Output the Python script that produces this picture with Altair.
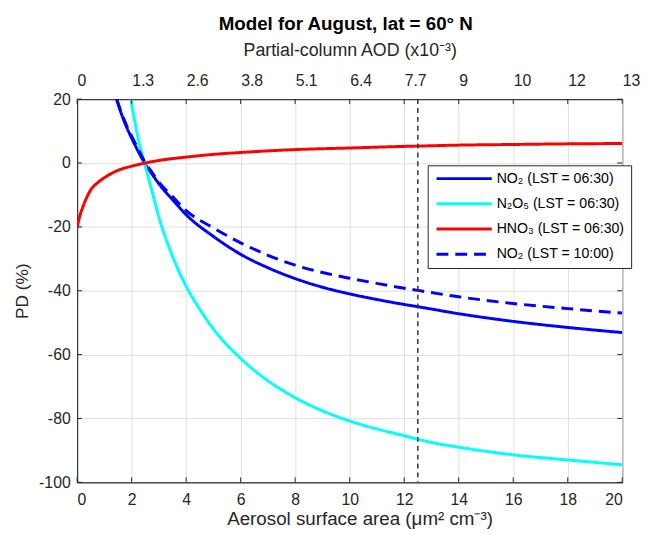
import altair as alt
import pandas as pd

# ---------------- data ----------------
series_names = ["NO₂ (LST = 06:30)", "N₂O₅ (LST = 06:30)", "HNO₃ (LST = 06:30)", "NO₂ (LST = 10:00)"]
series_colors = ["#0000ff", "#00ffff", "#ff0000", "#0000ff"]
series_dash = [[1, 0], [1, 0], [1, 0], [12, 7]]

no2_0630_x = [1.45, 1.6, 1.8, 2.0, 2.25, 2.47, 2.75, 3.0, 3.5, 4, 5, 6, 7, 8, 9, 10, 11, 12, 12.5, 14, 16, 18, 20]
no2_0630_y = [20, 16, 11.5, 7.8, 3.5, 0, -3.5, -6.5, -11.5, -16.2, -23.0, -28.6, -32.8, -36.2, -38.9, -41.0, -42.75, -44.3, -45.0, -47.2, -49.6, -51.5, -53.1]

n2o5_x = [1.97, 2.1, 2.25, 2.47, 2.75, 3.0, 3.5, 4, 4.5, 5, 6, 7, 8, 9, 10, 11, 12, 12.5, 13, 14, 16, 18, 20]
n2o5_y = [20, 13.8, 7.2, 0, -8.9, -17, -29.2, -38.6, -45.8, -52.0, -61.2, -68.2, -73.5, -77.6, -80.8, -83.3, -85.4, -86.5, -87.5, -89, -91.4, -93, -94.5]

hno3_x = [0, 0.1, 0.2, 0.35, 0.5, 0.75, 1.0, 1.5, 2, 2.5, 3, 4, 5, 6, 8, 10, 12, 12.5, 14, 16, 18, 20]
hno3_y = [-20.3, -16.5, -14, -10.8, -8.4, -6.2, -4.6, -2.3, -1.0, 0, 0.8, 1.85, 2.7, 3.3, 4.2, 4.7, 5.2, 5.3, 5.6, 5.8, 6.0, 6.1]

no2_1000_x = [1.45, 1.6, 1.8, 2.0, 2.25, 2.47, 2.75, 3.0, 3.5, 4, 5, 6, 7, 8, 9, 10, 11, 12, 12.5, 14, 16, 18, 20]
no2_1000_y = [20, 16.3, 12, 8.4, 4.2, 0.5, -3, -6, -10.5, -14.9, -20.3, -25.0, -28.9, -32.0, -34.3, -36.1, -37.7, -39.2, -39.9, -41.9, -44.0, -45.6, -47.0]

marker_x = [12.5]

x_ticks = [0, 2, 4, 6, 8, 10, 12, 14, 16, 18, 20]
y_ticks = [-100, -80, -60, -40, -20, 0, 20]
top_tick_labels = ["0", "1.3", "2.6", "3.8", "5.1", "6.4", "7.7", "9", "10", "12", "13"]

title_text = "Model for August, lat = 60° N"
x_title = "Aerosol surface area (μm² cm⁻³)"
top_title = "Partial-column AOD (x10⁻³)"
y_title = "PD (%)"

# ---------------- tables ----------------
rows = []
for name, xs, ys in zip(series_names,
                        [no2_0630_x, n2o5_x, hno3_x, no2_1000_x],
                        [no2_0630_y, n2o5_y, hno3_y, no2_1000_y]):
    for i, (a, b) in enumerate(zip(xs, ys)):
        rows.append({"series": name, "sa": a, "pd": b, "i": i})
df = pd.DataFrame(rows)
df_marker = pd.DataFrame({"sa": marker_x})
df_xt = pd.DataFrame({"sa": x_ticks})
df_yt = pd.DataFrame({"pd": y_ticks})

W, H = 552, 388
FONT = "Liberation Sans"
TXT = "#262626"
TL = 5

xscale = alt.Scale(domain=[0, 20], nice=False, zero=False)
yscale = alt.Scale(domain=[-100, 20], nice=False, zero=False)

top_expr = "[" + ",".join("'" + s + "'" for s in top_tick_labels) + "][round(datum.value/2)]"

y_axis = alt.Axis(orient="left", values=y_ticks, title=y_title, grid=True,
                  gridColor="#dedede", ticks=False, labelPadding=7,
                  labelFontSize=16, titleFontSize=17.5, titleFontWeight="normal",
                  titleX=-46, titleY=H / 2,
                  labelExpr="datum.value < 0 ? '-' + format(-datum.value, 'd') : format(datum.value, 'd')")

legend_kw = dict(title=None, orient="none", legendX=355, legendY=67,
                 symbolType="M-5,0H5", symbolSize=125, symbolStrokeWidth=3, symbolOffset=23.4,
                 labelFontSize=14.3, labelFont=FONT, labelColor="#000000",
                 labelOffset=25.4, rowPadding=10.5, padding=6,
                 strokeColor="#262626", fillColor="#ffffff")

lines = alt.Chart(df).mark_line(strokeWidth=3, interpolate="monotone", clip=True).encode(
    x=alt.X("sa:Q", scale=xscale,
            axis=alt.Axis(orient="bottom", values=x_ticks, title=x_title, grid=True,
                          gridColor="#dedede", ticks=False, labelPadding=9, titlePadding=3,
                          labelFontSize=16, titleFontSize=19, titleFontWeight="normal",
                          titleX=W / 2 + 10)),
    y=alt.Y("pd:Q", scale=yscale, axis=y_axis),
    color=alt.Color("series:N", scale=alt.Scale(domain=series_names, range=series_colors),
                    legend=alt.Legend(**legend_kw)),
    strokeDash=alt.StrokeDash("series:N", scale=alt.Scale(domain=series_names, range=series_dash),
                              legend=alt.Legend(**legend_kw)),
    detail="series:N",
    order="i:Q",
)

marker = alt.Chart(df_marker).mark_rule(strokeWidth=1.5, color="#333333", strokeDash=[5, 4]).encode(
    x=alt.X("sa:Q", scale=xscale, axis=None)
)

ticks_top = alt.Chart(df_xt).mark_rule(color=TXT, strokeWidth=1).encode(
    x=alt.X("sa:Q", scale=xscale,
            axis=alt.Axis(orient="top", values=x_ticks, title=top_title, grid=False, ticks=False,
                          labelExpr=top_expr, labelAlign="left", labelPadding=11, titlePadding=13.5,
                          labelFontSize=16, titleFontSize=18, titleFontWeight="normal")),
    y=alt.value(0), y2=alt.value(TL),
)
ticks_bottom = alt.Chart(df_xt).mark_rule(color=TXT, strokeWidth=1).encode(
    x=alt.X("sa:Q", scale=xscale, axis=None), y=alt.value(H), y2=alt.value(H - TL),
)
ticks_left = alt.Chart(df_yt).mark_rule(color=TXT, strokeWidth=1).encode(
    y=alt.Y("pd:Q", scale=yscale, axis=y_axis), x=alt.value(0), x2=alt.value(TL),
)
ticks_right = alt.Chart(df_yt).mark_rule(color=TXT, strokeWidth=1).encode(
    y=alt.Y("pd:Q", scale=yscale, axis=y_axis), x=alt.value(W), x2=alt.value(W - TL),
)

chart = alt.layer(lines, marker, ticks_bottom, ticks_left, ticks_right, ticks_top).resolve_axis(
    x="independent"
).properties(
    width=W, height=H,
    padding={"left": 70, "top": 89, "right": 20, "bottom": 45},
    autosize=alt.AutoSizeParams(type="none"),
    title=alt.TitleParams(title_text, fontSize=19, fontWeight="bold", font=FONT, color="#000000",
                          offset=8, anchor="middle", dx=-4),
).configure(
    font=FONT,
).configure_view(
    stroke=TXT, strokeWidth=1,
).configure_axis(
    labelFont=FONT, titleFont=FONT, labelColor=TXT, titleColor=TXT,
    domainColor=TXT, domainWidth=1,
)

chart.save("out.html", embed_options={"renderer": "svg", "actions": False})
